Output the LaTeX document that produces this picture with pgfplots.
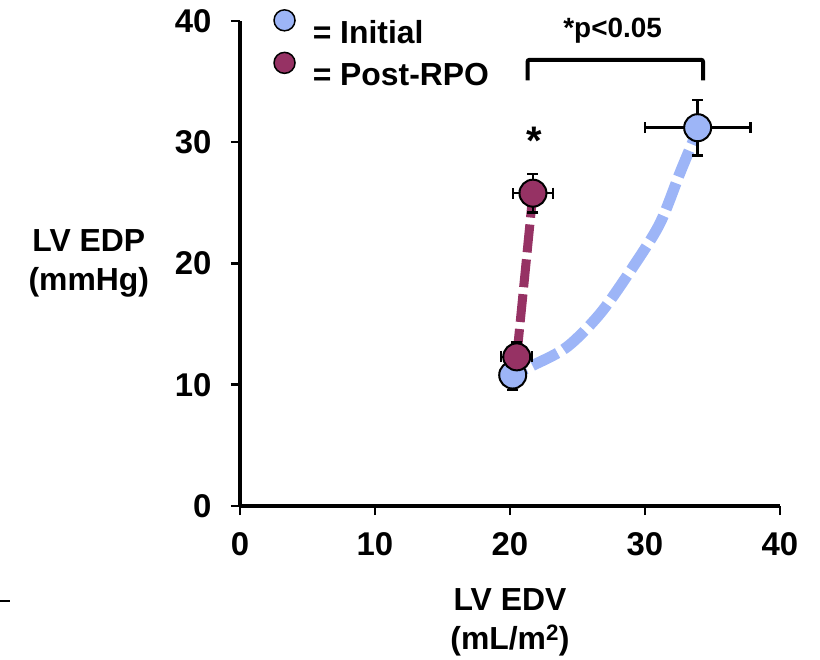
\documentclass[border=0pt]{standalone}
\usepackage{fontspec}
\setmainfont{Liberation Sans}
\usepackage{pgfplots}
\pgfplotsset{compat=1.18}
\definecolor{initc}{RGB}{157,181,247}
\definecolor{rpoc}{RGB}{150,50,100}

\begin{document}
\begin{tikzpicture}
\path[use as bounding box] (0,0) rectangle (820bp,660bp);
\draw[line width=2.5bp] (0,59bp) -- (10bp,59bp);
\begin{axis}[
    at={(240bp,154bp)}, anchor=south west,
    scale only axis, width=540bp, height=485bp,
    xmin=0, xmax=40, ymin=0, ymax=40,
    axis lines=left,
    axis line style={line width=3bp, -},
    xtick={0,10,20,30,40},
    ytick={0,10,20,30,40},
    tick align=outside,
    major tick length=9bp,
    tick style={line width=2.5bp, black},
    ticklabel style={font=\bfseries\fontsize{33}{33}\selectfont},
    /pgf/number format/assume math mode=true,
    xticklabel style={yshift=-14bp},
    yticklabel style={xshift=-16bp},
    xlabel={LV EDV\\(mL/m\textsuperscript{2})},
    xlabel style={at={(axis description cs:0.5,-0.24)}, anchor=center, align=center,
        font=\bfseries\fontsize{32}{39}\selectfont},
    ylabel={LV EDP\\(mmHg)},
    ylabel style={rotate=-90, at={(axis description cs:-0.28,0.5)}, anchor=center, align=center,
        font=\bfseries\fontsize{32}{39}\selectfont},
    clip=false,
    every error bar/.append style={line width=2.4bp},
    legend style={at={(axis cs:2.45,41.0)}, anchor=north west, draw=none, fill=none,
        inner sep=0pt, row sep=5bp, font=\bfseries\fontsize{32}{32}\selectfont,
        cells={anchor=west},
        /tikz/every odd column/.append style={column sep=15bp}},
]
% fitted curves
\addplot[initc, line width=11bp, dash pattern=on 28bp off 7bp, smooth, forget plot] coordinates {
    (19.3,10.4) (21.5,11.5) (24.2,13.1) (26.7,15.9) (29.1,19.7)
    (31.1,23.3) (32.6,27.5) (33.6,30.2) (33.9,31.2)
};
\addplot[rpoc, line width=9bp, dash pattern=on 28bp off 7bp, forget plot] coordinates {
    (20.5,12.3) (21.7,25.8)
};
% means with error bars
\addplot[forget plot, only marks, mark=*, mark size=13.5bp, line width=2.4bp,
    mark options={fill=initc, draw=black, line width=2bp},
    error bars/.cd, x dir=both, y dir=both, x explicit, y explicit,
    error bar style={line width=2.4bp, black, solid},
    error mark options={rotate=90, mark size=5.5bp, line width=2.4bp, black}]
    coordinates {
    (20.2,10.8) +- (0.6,1.25)
    (33.9,31.2) +- (3.9,2.3)
};
\addplot[forget plot, only marks, mark=*, mark size=13.5bp, line width=2.4bp,
    mark options={fill=rpoc, draw=black, line width=2bp},
    error bars/.cd, x dir=both, y dir=both, x explicit, y explicit,
    error bar style={line width=2.4bp, black, solid},
    error mark options={rotate=90, mark size=5.5bp, line width=2.4bp, black}]
    coordinates {
    (20.5,12.3) +- (1.15,1.2)
    (21.7,25.8) +- (1.5,1.6)
};
\addlegendimage{legend image code/.code={\draw[line width=1.5bp, fill=initc] (10bp,12bp) circle (10.5bp);}}
\addlegendentry{= Initial}
\addlegendimage{legend image code/.code={\draw[line width=1.5bp, fill=rpoc] (10bp,12bp) circle (10.5bp);}}
\addlegendentry{= Post-RPO}
% significance bracket
\draw[line width=4bp, rounded corners=2bp] (axis cs:21.3,35.1) -- (axis cs:21.3,36.8) -- (axis cs:34.3,36.8) -- (axis cs:34.3,35.1);
\node[anchor=base, font=\bfseries\fontsize{28}{28}\selectfont] at (axis cs:27.6,38.6) {*p<0.05};
\node[anchor=north, inner sep=0pt, font=\bfseries\fontsize{40}{40}\selectfont] at (axis cs:21.8,31.3) {*};
\end{axis}
\end{tikzpicture}
\end{document}
